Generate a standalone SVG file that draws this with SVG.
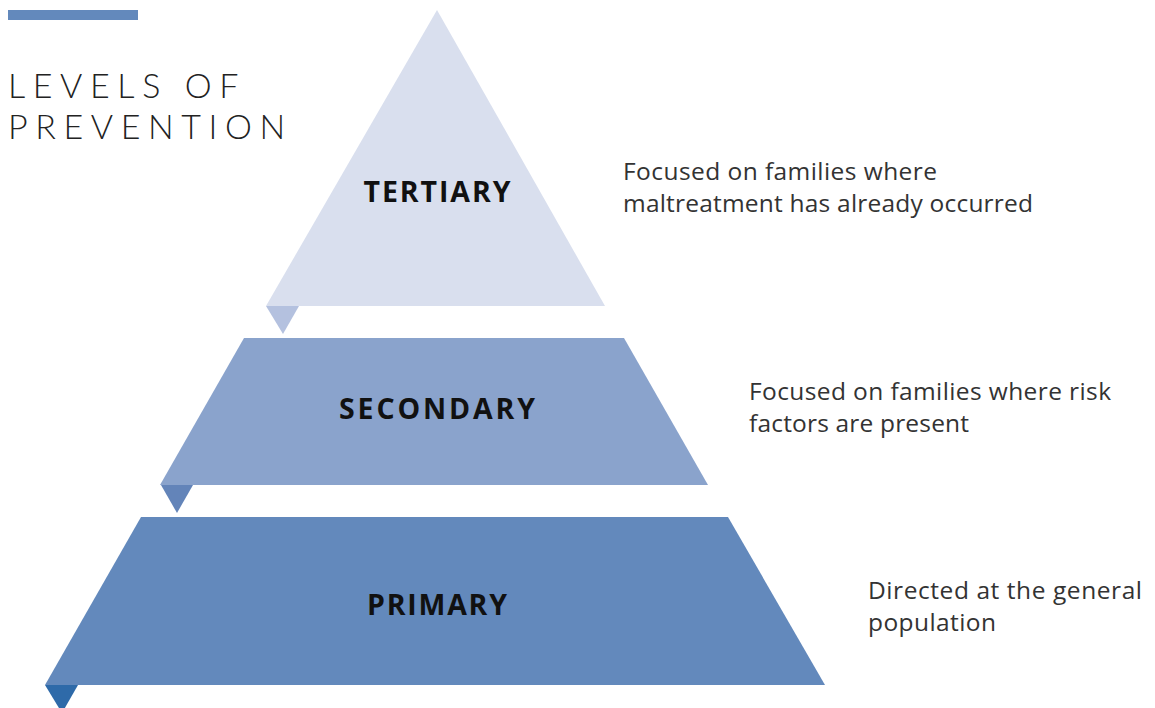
<svg xmlns="http://www.w3.org/2000/svg" width="1155" height="708" viewBox="0 0 1155 708">
<style>
.title{font-family:Lato,"Liberation Sans",sans-serif;font-weight:300;font-size:34px;letter-spacing:7.6px;fill:#222}
.lbl{font-family:"Open Sans","Liberation Sans",sans-serif;font-weight:700;font-size:28.5px;fill:#111;text-anchor:middle}
.desc{font-family:"Open Sans","Liberation Sans",sans-serif;font-size:24.5px;fill:#333}
</style>
<rect width="1155" height="708" fill="#fff"/>
<rect x="8" y="10" width="130" height="10" fill="#6389bc"/>
<text class="title" x="8" y="98">LEVELS OF</text>
<text class="title" x="8" y="139">PREVENTION</text>
<g id="tertiary">
<polygon points="437,10 605,306 266,306" fill="#d9dfee"/>
<polygon points="266,306 299,306 283,334" fill="#b4c1df"/>
<text class="lbl" x="437" y="202" textLength="147" lengthAdjust="spacing">TERTIARY</text>
</g>
<g id="secondary">
<polygon points="244,338 624,338 708,485 160,485" fill="#8aa3cc"/>
<polygon points="161,485 193,485 177,513" fill="#6384b9"/>
<text class="lbl" x="437" y="419" textLength="196" lengthAdjust="spacing">SECONDARY</text>
</g>
<g id="primary">
<polygon points="141,517 728,517 825,685 45,685" fill="#6389bc"/>
<polygon points="45,685 78,685 62,713" fill="#2e6aa9"/>
<text class="lbl" x="437" y="615" textLength="140" lengthAdjust="spacing">PRIMARY</text>
</g>
<g id="desc-tertiary">
<text class="desc" x="623" y="180" textLength="314" lengthAdjust="spacing">Focused on families where</text>
<text class="desc" x="623" y="212" textLength="410" lengthAdjust="spacing">maltreatment has already occurred</text>
</g>
<g id="desc-secondary">
<text class="desc" x="749" y="400" textLength="362" lengthAdjust="spacing">Focused on families where risk</text>
<text class="desc" x="749" y="432" textLength="220" lengthAdjust="spacing">factors are present</text>
</g>
<g id="desc-primary">
<text class="desc" x="868" y="599" textLength="274" lengthAdjust="spacing">Directed at the general</text>
<text class="desc" x="868" y="631" textLength="128" lengthAdjust="spacing">population</text>
</g>
<g id="connectors"/>
</svg>
